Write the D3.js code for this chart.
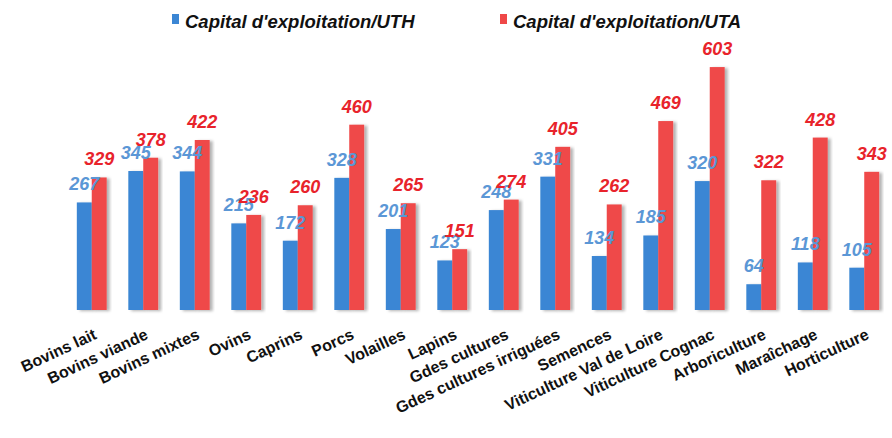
<!DOCTYPE html>
<html>
<head>
<meta charset="utf-8">
<script src="https://cdn.jsdelivr.net/npm/d3@7"></script>
<style>
  body { margin: 0; background: #fff; }
  svg { display: block; }
</style>
</head>
<body>
<svg id="chart" width="892" height="438"></svg>
<script>
const categories = ["Bovins lait", "Bovins viande", "Bovins mixtes", "Ovins", "Caprins", "Porcs", "Volailles", "Lapins", "Gdes cultures", "Gdes cultures irriguées", "Semences", "Viticulture Val de Loire", "Viticulture Cognac", "Arboriculture", "Maraîchage", "Horticulture"];
const seriesNames = ["Capital d'exploitation/UTH", "Capital d'exploitation/UTA"];
const uthValues = [267, 345, 344, 215, 172, 328, 201, 123, 248, 331, 134, 185, 320, 64, 118, 105];
const utaValues = [329, 378, 422, 236, 260, 460, 265, 151, 274, 405, 262, 469, 603, 322, 428, 343];

const barColors = ["#3b86d4", "#ef4848"];
const labelColors = ["#5b97d6", "#e8232b"];

const svg = d3.select("#chart");
const defs = svg.append("defs");
const f = defs.append("filter").attr("id", "shadow").attr("x", "-20%").attr("y", "-10%").attr("width", "150%").attr("height", "130%");
f.append("feDropShadow").attr("dx", 3).attr("dy", 1).attr("stdDeviation", 1.5).attr("flood-color", "#000").attr("flood-opacity", 0.3);

const x = d3.scaleBand().domain(categories).range([66, 890]).paddingInner(0.42).paddingOuter(0.21);
const xs = d3.scaleBand().domain([0, 1]).range([0, x.bandwidth()]);
const y = d3.scaleLinear().domain([0, 700]).range([310, 28]);

const data = categories.map((c, i) => ({ cat: c, vals: [uthValues[i], utaValues[i]] }));

const groups = svg.append("g").selectAll("g").data(data).join("g")
  .attr("transform", d => `translate(${x(d.cat)},0)`);

groups.selectAll("rect").data(d => d.vals.map((v, k) => ({ v, k }))).join("rect")
  .attr("x", d => xs(d.k))
  .attr("width", xs.bandwidth())
  .attr("y", d => y(d.v))
  .attr("height", d => y(0) - y(d.v))
  .attr("fill", d => barColors[d.k])
  .attr("filter", "url(#shadow)");

const labels = svg.append("g").selectAll("g").data(data).join("g")
  .attr("transform", d => `translate(${x(d.cat)},0)`);
labels.selectAll("text").data(d => d.vals.map((v, k) => ({ v, k }))).join("text")
  .attr("x", d => xs(d.k) + xs.bandwidth() / 2)
  .attr("y", d => y(d.v) - 12)
  .attr("text-anchor", "middle")
  .attr("font-family", "Liberation Sans, Arial, sans-serif")
  .attr("font-weight", "bold")
  .attr("font-style", "italic")
  .attr("font-size", 18)
  .attr("fill", d => labelColors[d.k])
  .text(d => d.v);

// category labels
svg.append("g").selectAll("text").data(categories).join("text")
  .attr("transform", c => `translate(${x(c) + x.bandwidth() / 2 + 1},328) rotate(-25)`)
  .attr("dy", "0.71em")
  .attr("text-anchor", "end")
  .attr("font-family", "Liberation Sans, Arial, sans-serif")
  .attr("font-weight", "bold")
  .attr("font-size", 16)
  .attr("fill", "#111")
  .text(c => c);

// legend
const legendX = [172, 500];
const leg = svg.append("g").selectAll("g").data(seriesNames).join("g")
  .attr("transform", (d, i) => `translate(${legendX[i]},0)`);
leg.append("rect").attr("x", 0).attr("y", 14).attr("width", 7).attr("height", 10)
  .attr("fill", (d, i) => barColors[i]);
leg.append("text").attr("x", 13).attr("y", 28)
  .attr("font-family", "Liberation Sans, Arial, sans-serif")
  .attr("font-weight", "bold")
  .attr("font-style", "italic")
  .attr("font-size", 18.5)
  .attr("fill", "#111")
  .text(d => d);
</script>
</body>
</html>
